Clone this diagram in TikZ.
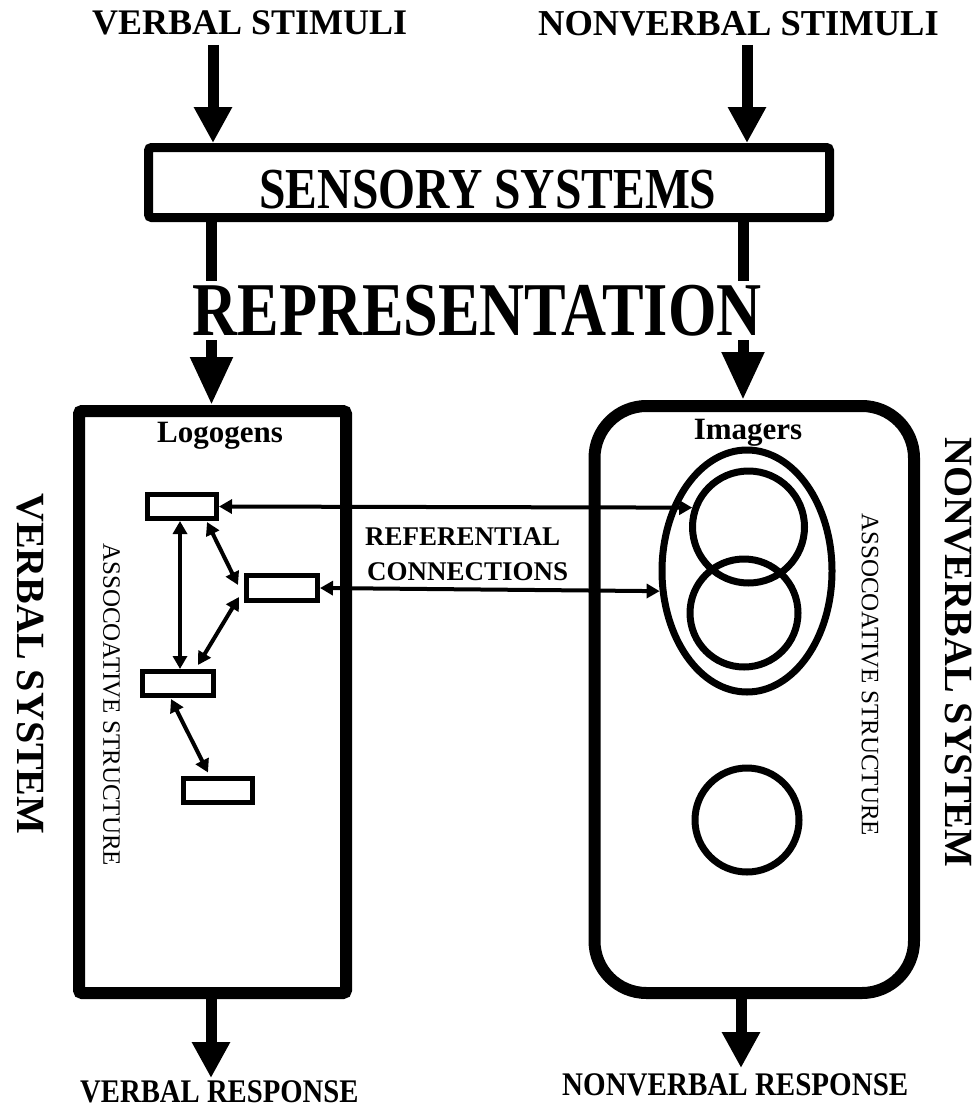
\documentclass[tikz,border=0pt]{standalone}
\usepackage{fontspec}
\usepackage{graphicx}
\setmainfont{Liberation Serif}
\usetikzlibrary{arrows.meta,shapes.geometric,calc}
\newcommand{\myfs}[1]{\fontsize{#1}{#1}\selectfont}
\begin{document}
\begin{tikzpicture}[x=1pt,y=-1pt,
  lbl/.style={inner sep=0pt, font=\bfseries},
  bigarrow/.style={line width=11pt, -{Triangle[length=36pt,width=36pt]}},
  bigarrowl/.style={line width=11pt, -{Triangle[length=48pt,width=40pt]}},
  dblarrow/.style={line width=4pt, {Triangle[length=13pt,width=14pt]}-{Triangle[length=13pt,width=14pt]}},
  smallbox/.style={draw, line width=5pt, minimum width=69pt, minimum height=24pt, inner sep=0pt},
  ring/.style={draw, circle, line width=7pt, inner sep=0pt},
  vtext/.style={anchor=west, rotate=-90, inner sep=0pt},
]
\useasboundingbox (0,0) rectangle (979,1108);

% titles
\node[lbl, anchor=base west] (vstim) at (92,35) {\myfs{36}VERBAL STIMULI};
\node[lbl, anchor=base west] (nvstim) at (538,36) {\myfs{36.5}NONVERBAL STIMULI};

% sensory systems
\node[draw, line width=9pt, rounded corners=3pt, minimum width=681pt, minimum height=70pt, inner sep=0pt] (sens) at (489,182.5) {};
\node[lbl, anchor=base] (senst) at (488,208) {\myfs{58}\scalebox{0.82}[1]{SENSORY SYSTEMS}};

% systems
\node[draw, line width=12pt, rounded corners=3pt, minimum width=267pt, minimum height=582pt, inner sep=0pt] (logo) at (212.5,702) {};
\node[draw, line width=12pt, rounded corners=52pt, minimum width=319.5pt, minimum height=587pt, inner sep=0pt] (imag) at (754.25,699.5) {};

% arrows in/out
\coordinate (vin) at (213,45);
\coordinate (nin) at (747,45);
\draw[bigarrow] (vin) -- (vin |- sens.north);
\draw[bigarrow] (nin) -- (nin |- sens.north);
\coordinate (ldown) at (211.5,0);
\coordinate (rdown) at (743,0);
\draw[bigarrowl] (sens.south -| ldown) -- (logo.north -| ldown);
\draw[bigarrowl] (sens.south -| rdown) -- (imag.north -| rdown);
\coordinate (vout) at (211,1078);
\coordinate (nout) at (741,1068);
\draw[bigarrow] (logo.south -| vout) -- (vout);
\draw[bigarrow] (imag.south -| nout) -- (nout);

\node[lbl, fill=white, inner sep=4pt, anchor=base] (rep) at (477,335) {\myfs{76}\scalebox{0.82}[1]{REPRESENTATION}};

\node[lbl, anchor=base west] (vresp) at (80,1102) {\myfs{33}\scalebox{0.87}[1]{VERBAL RESPONSE}};
\node[lbl, anchor=base west] (nresp) at (562,1095) {\myfs{33}\scalebox{0.88}[1]{NONVERBAL RESPONSE}};

% box titles
\node[lbl, anchor=base] (logot) at (220,442) {\myfs{31}Logogens};
\node[lbl, anchor=base] (imagt) at (748,439) {\myfs{31}Imagers};

% logogens
\node[smallbox] (b1) at (182,506.5) {};
\node[smallbox, minimum width=71pt, minimum height=25pt] (b2) at (282,588) {};
\node[smallbox, minimum width=71pt] (b3) at (178,683.5) {};
\node[smallbox] (b4) at (218,790) {};

% imagens
\node[draw, ellipse, line width=7pt, minimum width=170pt, minimum height=242pt, inner sep=0pt] (ell) at (747,571) {};
\node[ring, minimum size=112pt] (c1) at (748.5,527) {};
\node[ring, minimum size=108pt] (c2) at (744,613) {};
\node[ring, minimum size=104pt] (c3) at (747,820) {};

% referential connections
\draw[dblarrow] (b1.east) -- (c1.161);
\draw[dblarrow] (b2.east) -- (ell.193);
\node[lbl, anchor=base west] (ref1) at (365,545) {\myfs{27}REFERENTIAL};
\node[lbl, anchor=base west] (ref2) at (367,580) {\myfs{27}CONNECTIONS};

% associative arrows
\draw[dblarrow] ($(b1.south)+(-2,0)$) -- ($(b1.south |- b3.north)+(-2,0)$);
\draw[dblarrow] ($(b1.south)+(25,1)$) -- ($(b2.west)+(-6,-3)$);
\draw[dblarrow] ($(b2.west)+(-5,9)$) -- ($(b3.north)+(20,-4)$);
\draw[dblarrow] ($(b3.south)+(-7,1)$) -- ($(b4.north)+(-10,-3)$);

% vertical texts
\node[vtext] (as1) at (111.5,543) {\myfs{25}ASSOCOATIVE STRUCTURE};
\node[vtext] (as2) at (870,513) {\myfs{25}ASSOCOATIVE STRUCTURE};
\node[vtext, font=\bfseries] (vsys) at (30,493) {\myfs{40}VERBAL SYSTEM};
\node[vtext, font=\bfseries] (nvsys) at (958,437) {\myfs{40}NONVERBAL SYSTEM};
\end{tikzpicture}
\end{document}
